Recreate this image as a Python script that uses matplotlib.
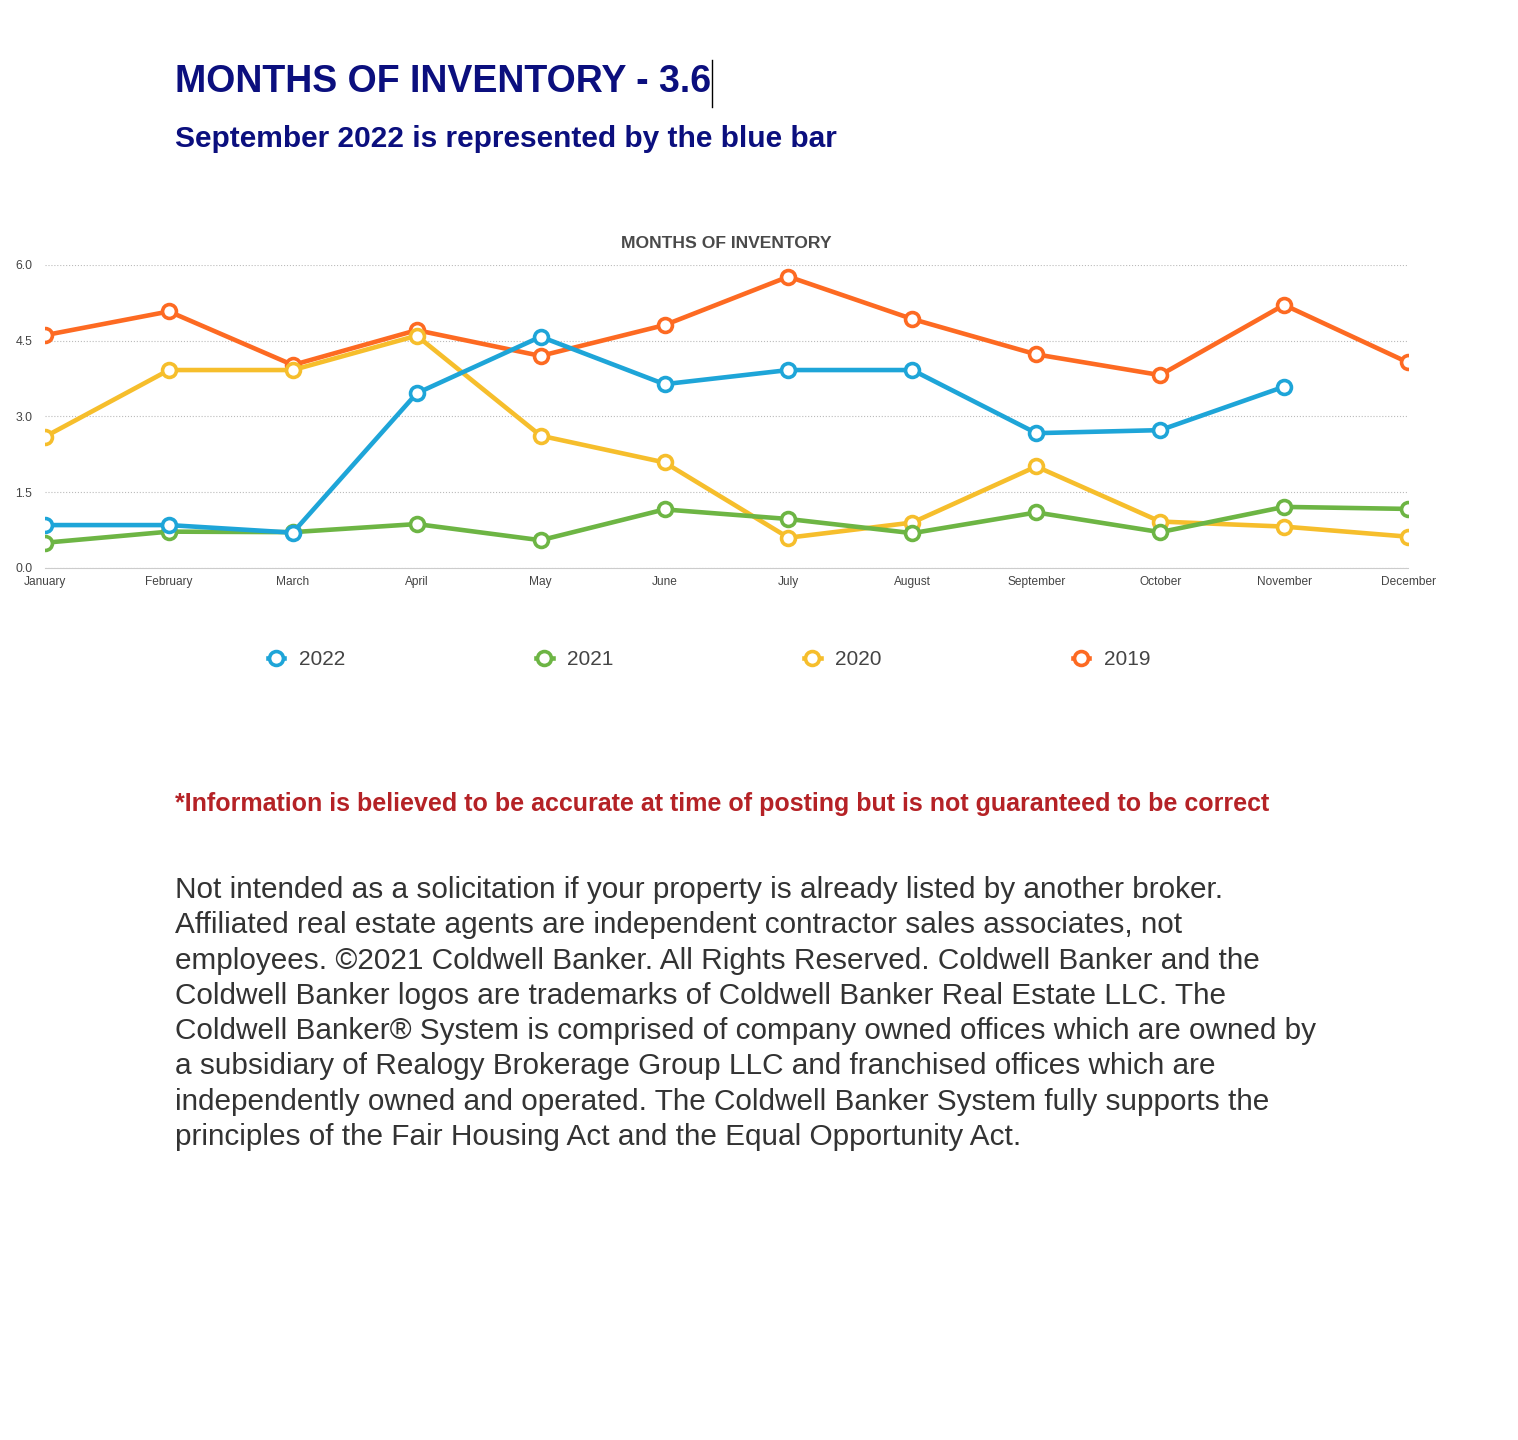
import matplotlib.pyplot as plt
import numpy as np

plt.rcParams['font.family'] = ['Liberation Sans', 'DejaVu Sans']

months = ['January', 'February', 'March', 'April', 'May', 'June', 'July',
          'August', 'September', 'October', 'November', 'December']
y2022 = [0.85, 0.85, 0.70, 3.46, 4.58, 3.64, 3.92, 3.92, 2.67, 2.73, 3.59]
y2021 = [0.50, 0.72, 0.71, 0.87, 0.55, 1.16, 0.97, 0.69, 1.10, 0.71, 1.21, 1.17]
y2020 = [2.60, 3.92, 3.92, 4.60, 2.62, 2.09, 0.60, 0.90, 2.01, 0.92, 0.82, 0.62]
y2019 = [4.61, 5.08, 4.02, 4.71, 4.20, 4.81, 5.77, 4.93, 4.23, 3.82, 5.21, 4.07]
yticks = [0.0, 1.5, 3.0, 4.5, 6.0]

series = [('2022', y2022, '#1ea5d8'),
          ('2021', y2021, '#6db544'),
          ('2020', y2020, '#f6be2c'),
          ('2019', y2019, '#fd6a22')]

W, H = 1518, 1440
fig = plt.figure(figsize=(W/100, H/100), dpi=100)
ax = fig.add_axes([45/W, 1-568/H, (1408-45)/W, 303/H])

# draw order: 2022 on top
for name, vals, col in reversed(series):
    ax.plot(np.arange(len(vals)), vals, color=col, lw=3.3, marker='o', ms=10,
            mfc='white', mec=col, mew=2.6, label=name, zorder=3,
            solid_joinstyle='round')

ax.set_xlim(0, 11)
ax.set_ylim(0, 6)
ax.set_xticks(range(12))
ax.set_xticklabels(months, fontsize=8.6, color='#444444')
ax.set_yticks(yticks)
ax.set_yticklabels([f'{v:.1f}' for v in yticks], fontsize=8.8, color='#444444')
ax.tick_params(length=0, pad=6)
ax.tick_params(axis='y', pad=9)
for s in ['top', 'right', 'left']:
    ax.spines[s].set_visible(False)
ax.spines['bottom'].set_color('#cccccc')
ax.set_axisbelow(True)
ax.yaxis.grid(True, color='#bbbbbb', ls=':', lw=0.8)
ax.set_title('MONTHS OF INVENTORY', fontsize=12.6, fontweight='bold',
             color='#4a4a4a', pad=12)

handles, labels = ax.get_legend_handles_labels()
handles, labels = handles[::-1], labels[::-1]
fig.legend(handles, labels, loc='center left', bbox_to_anchor=(249/W, 1-660/H),
           ncol=4, frameon=False, fontsize=15, handlelength=0.8,
           handletextpad=0.7, columnspacing=9.15, labelcolor='#444444')

navy = '#0b0f7e'
fig.text(175/W, 1-82/H, 'MONTHS OF INVENTORY - 3.6', fontsize=27,
         fontweight='bold', color=navy, va='center', ha='left')
fig.add_artist(plt.Line2D([712/W, 712/W], [1-60/H, 1-107/H], color='black', lw=1))
fig.text(175/W, 1-139/H, 'September 2022 is represented by the blue bar',
         fontsize=21.5, fontweight='bold', color=navy, va='center', ha='left')

fig.text(175/W, 1-804/H,
         '*Information is believed to be accurate at time of posting but is not guaranteed to be correct',
         fontsize=18.0, fontweight='bold', color='#b52226', va='center', ha='left')

body = [
    'Not intended as a solicitation if your property is already listed by another broker.',
    'Affiliated real estate agents are independent contractor sales associates, not',
    'employees. \u00a92021 Coldwell Banker. All Rights Reserved. Coldwell Banker and the',
    'Coldwell Banker logos are trademarks of Coldwell Banker Real Estate LLC. The',
    'Coldwell Banker\u00ae System is comprised of company owned offices which are owned by',
    'a subsidiary of Realogy Brokerage Group LLC and franchised offices which are',
    'independently owned and operated. The Coldwell Banker System fully supports the',
    'principles of the Fair Housing Act and the Equal Opportunity Act.',
]
for i, line in enumerate(body):
    fig.text(175/W, 1-(890 + i*35.3)/H, line, fontsize=21.4, color='#333333',
             va='center', ha='left')

fig.savefig('out.png', dpi=100, facecolor='white')
